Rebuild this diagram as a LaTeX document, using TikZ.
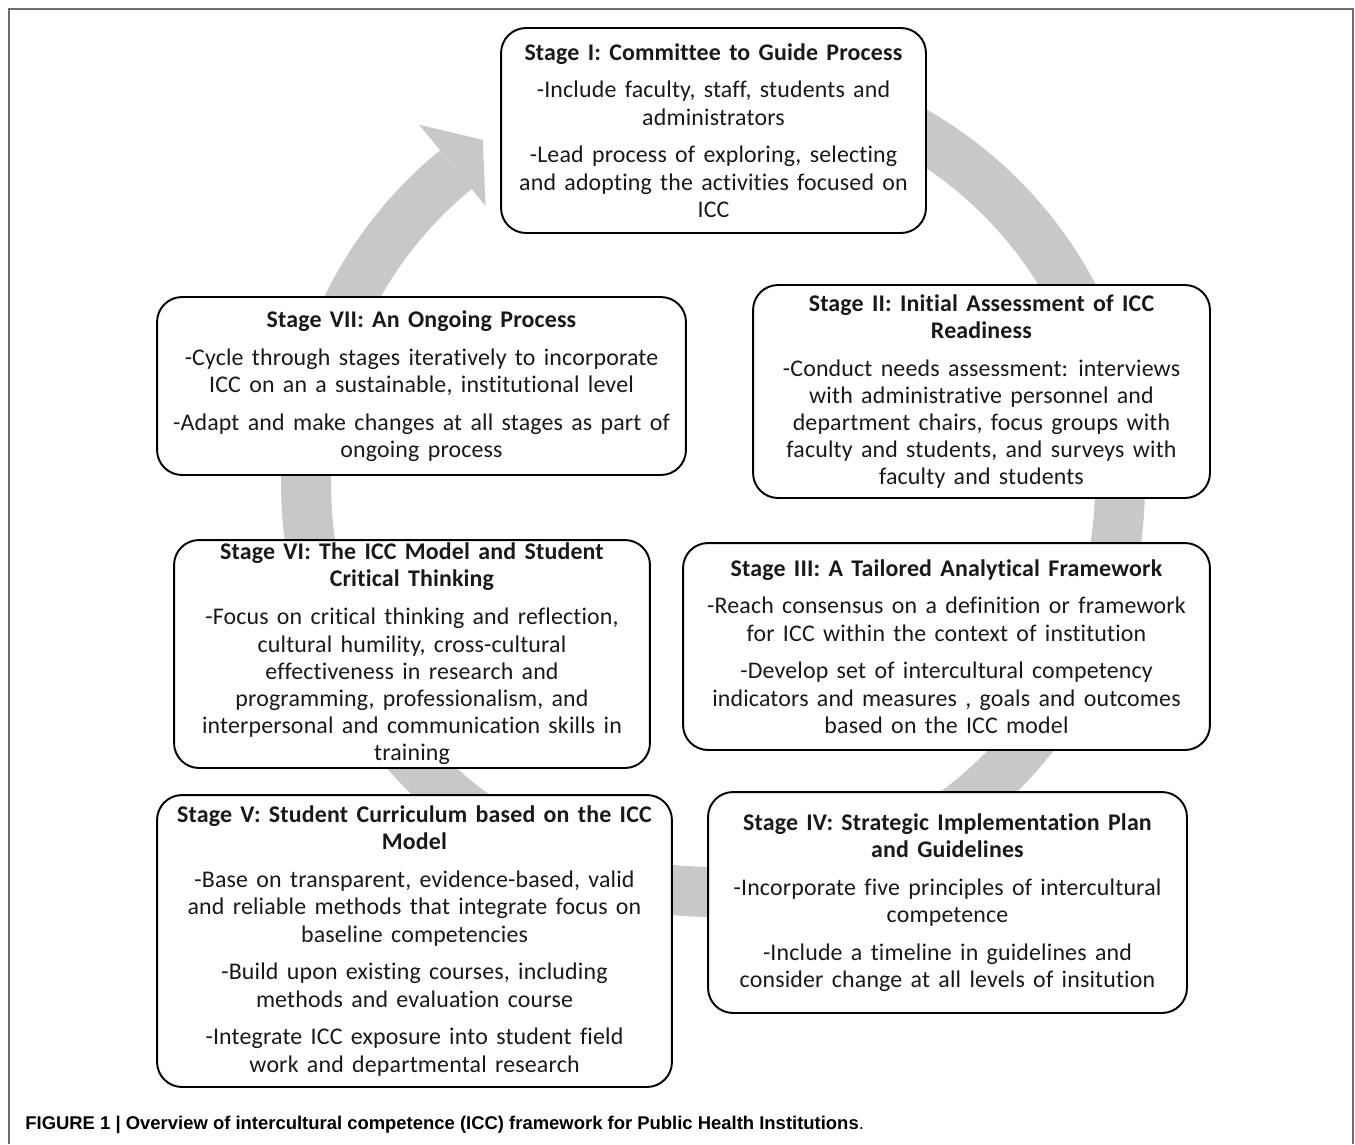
\documentclass[tikz,border=0pt]{standalone}
\usepackage{fontspec}
\setmainfont{Carlito}[Ligatures={NoCommon}, WordSpace=1.5, LetterSpace=0.7]
\newfontfamily\capfont{Liberation Sans}
\definecolor{ringgray}{RGB}{200,200,200}
\definecolor{framegray}{RGB}{110,110,110}
\definecolor{inkcol}{RGB}{25,25,25}
\tikzset{
  stagebox/.style={draw, line width=1.1pt, rounded corners=0.5cm, fill=white,
    align=center, inner sep=0pt, text=inkcol,
    font=\fontsize{13.6}{15.5}\selectfont},
  ringline/.style={line width=1cm, ringgray},
  frameline/.style={line width=1.2pt, framegray},
}
\begin{document}
\begin{tikzpicture}[x=0.02cm, y=0.02cm]
\useasboundingbox (0,0) rectangle (1355,-1144);
% outer frame
\draw[frameline] (9,-1144) -- (9,-9) -- (1353,-9) -- (1353,-1144);
% the cycle arrow behind the boxes
\begin{scope}[shift={(713,-485)}]
\draw[ringline] (95:8.14cm) arc[start angle=95, end angle=-230.8, radius=8.14cm];
\fill[ringgray] (129.2:7.2cm) -- (129.2:9.3cm) -- (123.7:8.3cm) -- cycle;
\end{scope}
% stages
\node[stagebox, minimum width=8.5cm, minimum height=4.1cm] (stageI) at (713.5,-130.5)
  {\textbf{Stage I: Committee to Guide Process}\\[6pt]
   -Include faculty, staff, students and\\ administrators\\[6pt]
   -Lead process of exploring, selecting\\ and adopting the activities focused on\\ ICC};
\node[stagebox, minimum width=9.14cm, minimum height=4.26cm] (stageII) at (981.5,-391.5)
  {\textbf{Stage II: Initial Assessment of ICC}\\ \textbf{Readiness}\\[6pt]
   -Conduct needs assessment: interviews\\ with administrative personnel and\\
   department chairs, focus groups with\\ faculty and students, and surveys with\\
   faculty and students};
\node[stagebox, minimum width=10.54cm, minimum height=4.14cm] (stageIII) at (946.5,-646.5)
  {\textbf{Stage III: A Tailored Analytical Framework}\\[6pt]
   -Reach consensus on a definition or framework\\ for ICC within the context of institution\\[6pt]
   -Develop set of intercultural competency\\ indicators and measures , goals and outcomes\\
   based on the ICC model};
\node[stagebox, minimum width=9.58cm, minimum height=4.42cm] (stageIV) at (947.5,-902.5)
  {\textbf{Stage IV: Strategic Implementation Plan}\\ \textbf{and Guidelines}\\[6pt]
   -Incorporate five principles of intercultural\\ competence\\[6pt]
   -Include a timeline in guidelines and\\ consider change at all levels of insitution};
\node[stagebox, minimum width=10.3cm, minimum height=5.84cm] (stageV) at (414.5,-941)
  {\textbf{Stage V: Student Curriculum based on the ICC}\\ \textbf{Model}\\[6pt]
   -Base on transparent, evidence-based, valid\\ and reliable methods that integrate focus on\\
   baseline competencies\\[6pt]
   -Build upon existing courses, including\\ methods and evaluation course\\[6pt]
   -Integrate ICC exposure into student field\\ work and departmental research};
\node[stagebox, minimum width=9.52cm, minimum height=4.56cm] (stageVI) at (412,-654)
  {\textbf{Stage VI: The ICC Model and Student}\\ \textbf{Critical Thinking}\\[6pt]
   -Focus on critical thinking and reflection,\\ cultural humility, cross-cultural\\
   effectiveness in research and\\ programming, professionalism, and\\
   interpersonal and communication skills in\\ training};
\node[stagebox, minimum width=10.58cm, minimum height=3.56cm] (stageVII) at (421.5,-386)
  {\textbf{Stage VII: An Ongoing Process}\\[6pt]
   -Cycle through stages iteratively to incorporate\\ ICC on an a sustainable, institutional level\\[6pt]
   -Adapt and make changes at all stages as part of\\ ongoing process};
% caption
\node[anchor=west, inner sep=0pt, font=\capfont\fontsize{10.5}{12}\selectfont] (caption) at (25,-1125)
  {\textbf{FIGURE 1 | Overview of intercultural competence (ICC) framework for Public Health Institutions}.};
\end{tikzpicture}
\end{document}
